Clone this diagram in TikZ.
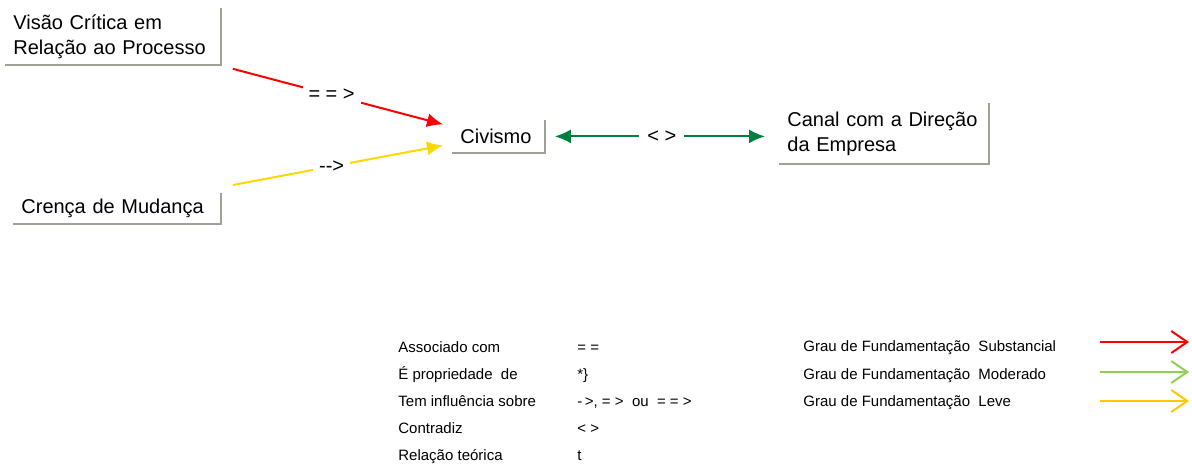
\documentclass[tikz,border=0pt]{standalone}
\usepackage{fontspec}
\setmainfont{Liberation Sans}
\usetikzlibrary{arrows.meta}
\hyphenpenalty=10000
\definecolor{sombra}{RGB}{160,160,152}
\definecolor{verdeescuro}{RGB}{0,128,62}
\definecolor{amarelo}{RGB}{255,215,0}
\definecolor{verdeclaro}{RGB}{146,208,80}
\definecolor{ouro}{RGB}{255,200,0}

\begin{document}
\begin{tikzpicture}[x=0.5pt,y=-0.5pt,
    caixa/.style={anchor=north west,align=left,inner xsep=4pt,inner ysep=0pt,font=\fontsize{10}{12.5}\selectfont},
    borda/.style={draw=sombra,line width=1pt},
    seta/.style={line width=1pt,-{Latex[length=8pt,width=7pt]}},
    rotulo/.style={fill=white,text=black,inner sep=3pt,font=\fontsize{10}{12}\selectfont},
    legenda/.style={anchor=base west,inner sep=0pt,font=\fontsize{7.5}{9}\selectfont},
    grau/.style={line width=1pt,-{Straight Barb[length=8pt,width=11pt]}}]
    \useasboundingbox (0,0) rectangle (1192,465);

    % Conceitos
    \node[caixa,text width=99.5pt,minimum height=28pt] (visao) at (5,8) {Visão Crítica em\\Relação ao Processo};
    \node[caixa,text width=95.5pt,minimum height=15pt] (crenca) at (13,193) {Crença de Mudança};
    \node[caixa,text width=38pt,minimum height=16pt] (civismo) at (452,120) {Civismo};
    \node[caixa,text width=96.5pt,minimum height=30pt] (canal) at (779,103) {Canal com a Direção\\da Empresa};
    \foreach \n in {visao,crenca,civismo,canal}
        \draw[borda] (\n.north east) -- (\n.south east) -- (\n.south west);

    % Relacoes
    \draw[seta,red] ([shift={(12,4)}]visao.south east) -- node[rotulo,pos=0.47] {= = >} ([shift={(-9,-12)}]civismo.west);
    \draw[seta,amarelo] ([shift={(12,-8)}]crenca.north east) -- node[rotulo,pos=0.47] {-{}->} ([shift={(-9,9)}]civismo.west);
    \draw[verdeescuro,line width=1pt,{Latex[length=8pt,width=7pt]}-{Latex[length=8pt,width=7pt]},shorten <=5pt,shorten >=7pt]
        (civismo.east) -- node[rotulo,inner xsep=4pt] {< >} (civismo.east -| canal.west);

    % Legenda
    \node[legenda] (assoc) at (398,352) {Associado com};
    \node[legenda] (propr) at (398,379) {É propriedade\ \ de};
    \node[legenda] (influ) at (398,406) {Tem influência sobre};
    \node[legenda] (contr) at (398,433) {Contradiz};
    \node[legenda] (teor) at (398,460) {Relação teórica};
    \node[legenda] (simb1) at (577,352) {= =};
    \node[legenda] (simb2) at (577,379) {*\}};
    \node[legenda] (simb3) at (577,406) {-\,>, = > \ ou\ \ = = >};
    \node[legenda] (simb4) at (577,433) {< >};
    \node[legenda] (simb5) at (577,460) {t};

    \node[legenda] (grau1) at (803,351) {Grau de Fundamentação\ \ Substancial};
    \node[legenda] (grau2) at (803,379) {Grau de Fundamentação\ \ Moderado};
    \node[legenda] (grau3) at (803,406) {Grau de Fundamentação\ \ Leve};
    \foreach \y/\c/\n in {342/red/1,372/verdeclaro/2,401/ouro/3} {
        \coordinate (ini\n) at (1100,\y);
        \coordinate (fim\n) at (1189,\y);
        \draw[grau,\c] (ini\n) -- (fim\n);
    }
\end{tikzpicture}
\end{document}
